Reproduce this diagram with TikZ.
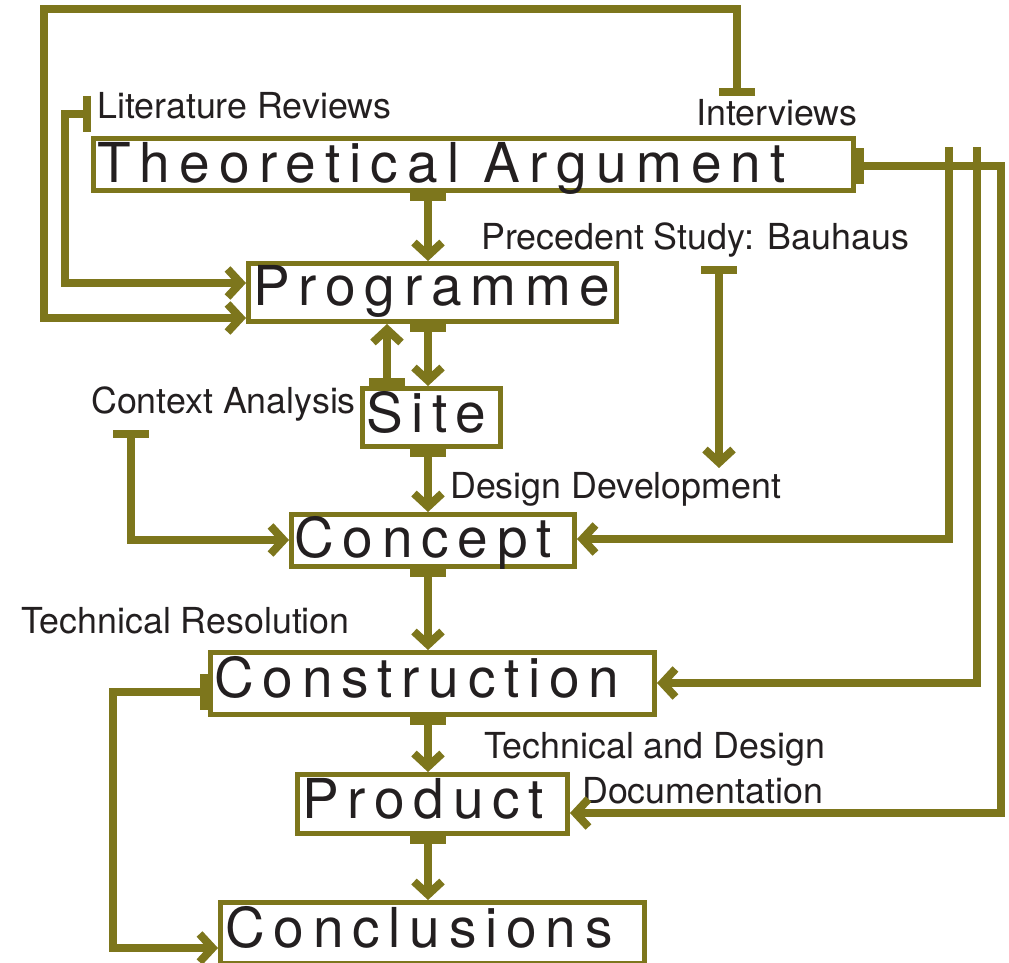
\documentclass[tikz,border=0pt]{standalone}
\usepackage{fontspec}
\setmainfont{TeX Gyre Heros}
\newfontfamily\bigf[LetterSpace=16]{TeX Gyre Heros}
\newfontfamily\bigw[LetterSpace=16.6]{TeX Gyre Heros}
\usetikzlibrary{arrows.meta}
\definecolor{oliv}{RGB}{125,118,28}
\definecolor{txt}{RGB}{35,31,32}
\tikzset{
  box/.style={draw=oliv, line width=5pt, rectangle, inner sep=0pt, outer sep=2.5pt},
  big/.style={anchor=base west, inner sep=0pt, text=txt, font=\bigf\fontsize{55}{60}\selectfont},
  lbl/.style={anchor=base west, inner sep=0pt, text=txt, font=\fontsize{35.8}{40}\selectfont},
  conn/.style={draw=oliv, line width=8pt, line join=miter},
  ba/.style={conn, arrows={Bar[width=36pt]-Straight Barb[length=13pt,width=28pt]}},
  pa/.style={conn, arrows={-Straight Barb[length=13pt,width=28pt]}}
}
\begin{document}
\begin{tikzpicture}[x=1pt,y=-1pt]
\useasboundingbox (0,0) rectangle (1009,963);
% boxes
\node[box, minimum width=760pt, minimum height=52pt] (ta) at (473.5,164.5) {};
\node[box, minimum width=368pt, minimum height=58pt] (prog) at (432.5,292.5) {};
\node[box, minimum width=138pt, minimum height=58pt] (site) at (431.5,417.5) {};
\node[box, minimum width=283pt, minimum height=52pt] (conc) at (433,540.5) {};
\node[box, minimum width=444pt, minimum height=62pt] (cons) at (432.5,683.5) {};
\node[box, minimum width=270pt, minimum height=59pt] (prod) at (432.5,804) {};
\node[box, minimum width=424pt, minimum height=61pt] (concl) at (432.5,933) {};
% box texts
\node[big, font=\bigw\fontsize{55}{60}\selectfont] (tat) at (97,182) {Theoretical Argument};
\node[big] (progt) at (253,305) {Programme};
\node[big] (sitet) at (366,432) {Site};
\node[big] (conct) at (294,557) {Concept};
\node[big] (const) at (214,697) {Construction};
\node[big] (prodt) at (302,818) {Product};
\node[big] (conclt) at (225,947) {Conclusions};
% labels
\node[lbl] (lit) at (97,119) {Literature Reviews};
\node[lbl] (int) at (696,125) {Interviews};
\begin{scope}
\clip (0,0) rectangle (907,963);
\node[lbl] (prec) at (481,249) {Precedent Study: Bauhaus};
\end{scope}
\node[lbl] (ctx) at (91,413) {Context Analysis};
\node[lbl] (dd) at (450,498) {Design Development};
\node[lbl] (tr) at (21,633) {Technical Resolution};
\node[lbl] (tdd1) at (484,758) {Technical and Design};
\node[lbl] (tdd2) at (582,803) {Documentation};
% coordinates
\coordinate (ax) at (428,0);
\coordinate (bx) at (387,0);
% main vertical arrows
\draw[ba] (ax |- ta.south) -- (ax |- prog.north);
\draw[ba] (ax |- prog.south) -- (ax |- site.north);
\draw[ba] (bx |- site.north) -- (bx |- prog.south);
\draw[ba] (ax |- site.south) -- (ax |- conc.north);
\draw[ba] (ax |- conc.south) -- (ax |- cons.north);
\draw[ba] (ax |- cons.south) -- (ax |- prod.north);
\draw[ba] (ax |- prod.south) -- (ax |- concl.north);
% literature reviews
\coordinate (litS) at (91,114);
\draw[ba] (litS) -- (65,114) -- (65,283) -- (prog.west |- 0,283);
% interviews
\coordinate (intS) at (737,96);
\draw[ba] (intS) -- (737,9) -- (44,9) -- (44,318) -- (prog.west |- 0,318);
% theoretical argument right
\draw[ba] (ta.east |- 0,166) -- (1001,166) -- (1001,813) -- (prod.east |- 0,813);
\coordinate (s1) at (949,147);
\coordinate (s2) at (977,147);
\draw[pa] (s1) -- (949,539) -- (conc.east |- 0,539);
\draw[pa] (s2) -- (977,683) -- (cons.east |- 0,683);
% precedent study
\coordinate (precS) at (719,266);
\coordinate (precE) at (719,468);
\draw[ba] (precS) -- (precE);
% context analysis
\coordinate (ctxS) at (131,430);
\draw[ba] (ctxS) -- (131,540) -- (conc.west |- 0,540);
% construction left loop
\draw[ba] (cons.west |- 0,692) -- (113,692) -- (113,948) -- (concl.west |- 0,948);
\end{tikzpicture}
\end{document}
